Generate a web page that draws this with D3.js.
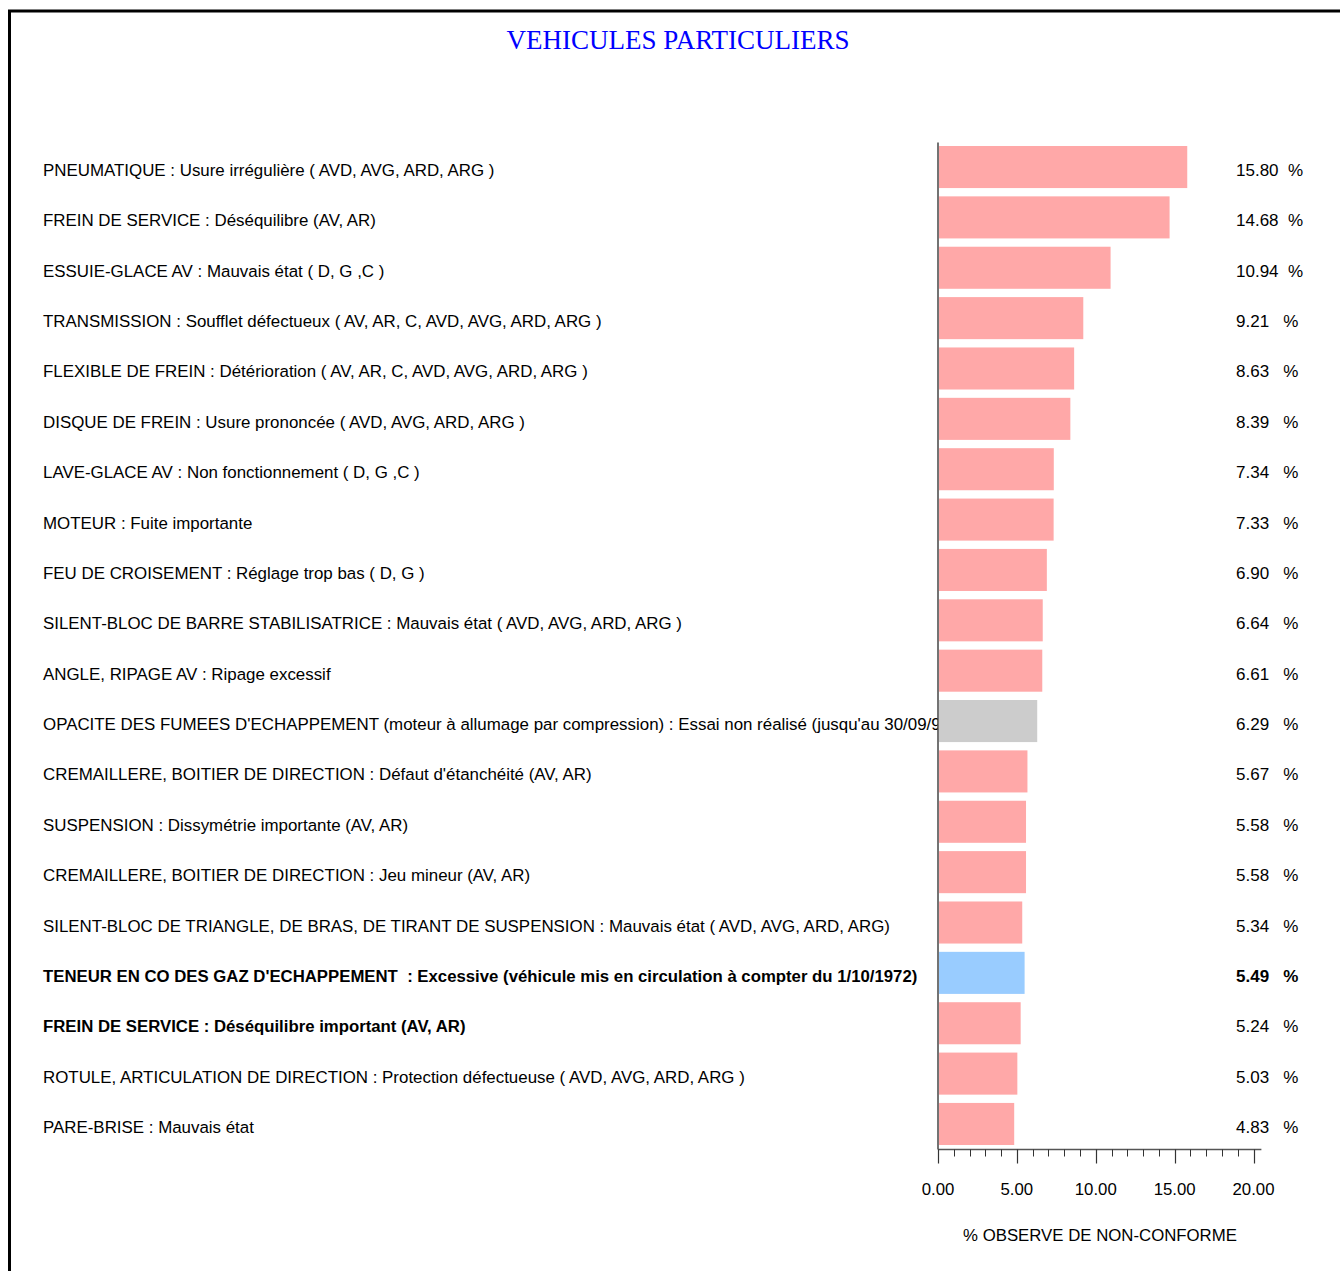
<!DOCTYPE html>
<html>
<head>
<meta charset="utf-8">
<script src="https://cdn.jsdelivr.net/npm/d3@7"></script>
<style>
  html, body { margin: 0; padding: 0; background: #fff; }
  svg text { font-family: Arial, "Liberation Sans", sans-serif; fill: #000; }
</style>
</head>
<body>
<script>
const titleText = "VEHICULES PARTICULIERS";
const axisTitle = "% OBSERVE DE NON-CONFORME";

const categories = [
  "PNEUMATIQUE : Usure irrégulière ( AVD, AVG, ARD, ARG )",
  "FREIN DE SERVICE : Déséquilibre (AV, AR)",
  "ESSUIE-GLACE AV : Mauvais état ( D, G ,C )",
  "TRANSMISSION : Soufflet défectueux ( AV, AR, C, AVD, AVG, ARD, ARG )",
  "FLEXIBLE DE FREIN : Détérioration ( AV, AR, C, AVD, AVG, ARD, ARG )",
  "DISQUE DE FREIN : Usure prononcée ( AVD, AVG, ARD, ARG )",
  "LAVE-GLACE AV : Non fonctionnement ( D, G ,C )",
  "MOTEUR : Fuite importante",
  "FEU DE CROISEMENT : Réglage trop bas ( D, G )",
  "SILENT-BLOC DE BARRE STABILISATRICE : Mauvais état ( AVD, AVG, ARD, ARG )",
  "ANGLE, RIPAGE AV : Ripage excessif",
  "OPACITE DES FUMEES D'ECHAPPEMENT (moteur à allumage par compression) : Essai non réalisé (jusqu'au 30/09/98)",
  "CREMAILLERE, BOITIER DE DIRECTION : Défaut d'étanchéité (AV, AR)",
  "SUSPENSION : Dissymétrie importante (AV, AR)",
  "CREMAILLERE, BOITIER DE DIRECTION : Jeu mineur (AV, AR)",
  "SILENT-BLOC DE TRIANGLE, DE BRAS, DE TIRANT DE SUSPENSION : Mauvais état ( AVD, AVG, ARD, ARG)",
  "TENEUR EN CO DES GAZ D'ECHAPPEMENT  : Excessive (véhicule mis en circulation à compter du 1/10/1972)",
  "FREIN DE SERVICE : Déséquilibre important (AV, AR)",
  "ROTULE, ARTICULATION DE DIRECTION : Protection défectueuse ( AVD, AVG, ARD, ARG )",
  "PARE-BRISE : Mauvais état"
];

const values = [15.80, 14.68, 10.94, 9.21, 8.63, 8.39, 7.34, 7.33, 6.90, 6.64,
                6.61, 6.29, 5.67, 5.58, 5.58, 5.34, 5.49, 5.24, 5.03, 4.83];

// bar category kind: normal / gray / blue
const kinds = ["n","n","n","n","n","n","n","n","n","n",
               "n","g","n","n","n","n","b","n","n","n"];

// label weight
const labelBold = [0,0,0,0,0,0,0,0,0,0, 0,0,0,0,0,0,1,1,0,0];
const valueBold = [0,0,0,0,0,0,0,0,0,0, 0,0,0,0,0,0,1,0,0,0];

const majorTicks = [0, 5, 10, 15, 20];
const minorTicks = d3.range(0, 21, 1);

(function () {
const W = 1340, H = 1271;
const x0 = 938, x20 = 1253.5;
const yTop = 146, yBottom = 1145;

const svg = d3.select("body").append("svg")
  .attr("width", W).attr("height", H);

// frame
svg.append("rect")
  .attr("x", 9.5).attr("y", 11)
  .attr("width", W + 20).attr("height", H + 20)
  .attr("fill", "none").attr("stroke", "#000").attr("stroke-width", 3);

// title
svg.append("text")
  .attr("x", 678).attr("y", 49)
  .attr("text-anchor", "middle")
  .style("font-family", "'Liberation Serif', 'Times New Roman', serif")
  .style("font-size", "27px")
  .style("fill", "#0000FF")
  .text(titleText);

const x = d3.scaleLinear().domain([0, 20]).range([x0, x20]);
const y = d3.scaleBand().domain(d3.range(categories.length))
  .range([yTop, yBottom]).paddingInner(0.165).paddingOuter(0.0);

const color = d3.scaleOrdinal().domain(["n", "g", "b"])
  .range(["#FFA8A8", "#CCCCCC", "#99CCFF"]);

// clip for labels
svg.append("clipPath").attr("id", "labclip")
  .append("rect").attr("x", 0).attr("y", 0).attr("width", x0).attr("height", H);

// labels
svg.append("g").attr("clip-path", "url(#labclip)")
  .selectAll("text").data(categories).join("text")
  .attr("x", 43)
  .attr("y", (d, i) => y(i) + y.bandwidth() / 2 + 9)
  .style("font-size", (d, i) => labelBold[i] ? "16.75px" : "16.9px")
  .style("font-weight", (d, i) => labelBold[i] ? "bold" : "normal")
  .style("white-space", "pre")
  .attr("xml:space", "preserve")
  .text(d => d);

// bars
svg.append("g").selectAll("rect").data(values).join("rect")
  .attr("x", x(0) + 1)
  .attr("y", (d, i) => y(i))
  .attr("width", d => x(d) - x(0) - 1)
  .attr("height", y.bandwidth())
  .attr("fill", (d, i) => color(kinds[i]));

// value labels
svg.append("g").selectAll("text").data(values).join("text")
  .attr("x", 1236)
  .attr("y", (d, i) => y(i) + y.bandwidth() / 2 + 9)
  .style("font-size", "17px")
  .style("font-weight", (d, i) => valueBold[i] ? "bold" : "normal")
  .style("white-space", "pre")
  .attr("xml:space", "preserve")
  .text(d => d.toFixed(2).padEnd(6, " ") + " %");

// vertical axis line
svg.append("line")
  .attr("x1", x0).attr("x2", x0)
  .attr("y1", 142.5).attr("y2", 1149.5)
  .attr("stroke", "#444").attr("stroke-width", 1.5);

// bottom axis
const axisY = 1149.5;
const axG = svg.append("g");
axG.append("line")
  .attr("x1", x0).attr("x2", x(20.5))
  .attr("y1", axisY).attr("y2", axisY)
  .attr("stroke", "#555").attr("stroke-width", 1.5);

axG.selectAll("line.minor").data(minorTicks.filter(t => t % 5 !== 0)).join("line")
  .attr("class", "minor")
  .attr("x1", d => Math.round(x(d)) + 0.5).attr("x2", d => Math.round(x(d)) + 0.5)
  .attr("y1", axisY).attr("y2", axisY + 7)
  .attr("stroke", "#333").attr("stroke-width", 1);

axG.selectAll("line.major").data(majorTicks).join("line")
  .attr("class", "major")
  .attr("x1", d => Math.round(x(d)) + 0.5).attr("x2", d => Math.round(x(d)) + 0.5)
  .attr("y1", axisY).attr("y2", axisY + 14)
  .attr("stroke", "#333").attr("stroke-width", 1.2);

axG.selectAll("text").data(majorTicks).join("text")
  .attr("x", d => x(d))
  .attr("y", 1195)
  .attr("text-anchor", "middle")
  .style("font-size", "16.8px")
  .text(d => d.toFixed(2));

svg.append("text")
  .attr("x", 1100).attr("y", 1241)
  .attr("text-anchor", "middle")
  .style("font-size", "16.8px")
  .text(axisTitle);
})();
</script>
</body>
</html>
